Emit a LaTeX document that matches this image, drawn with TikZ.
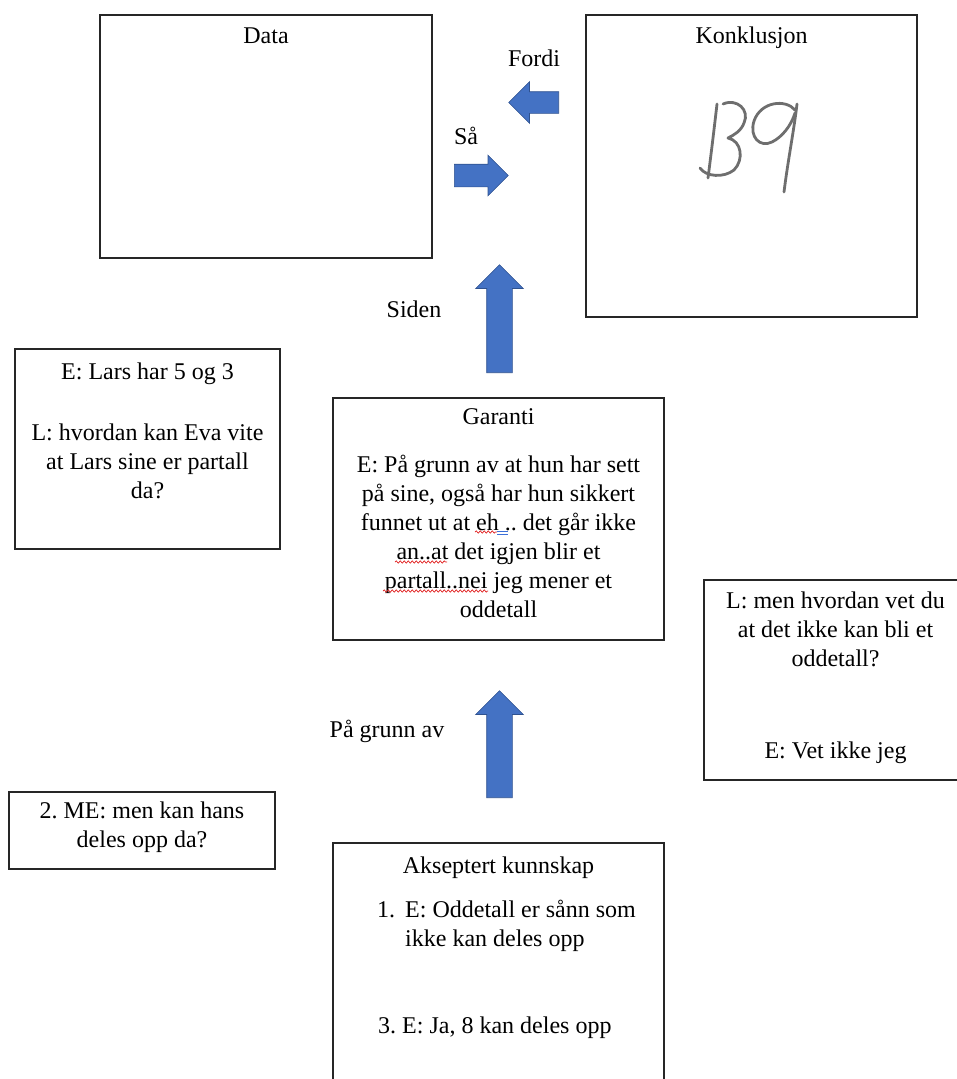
\documentclass[tikz,border=0pt]{standalone}
\usepackage{fontspec}
\setmainfont{Liberation Serif}
\frenchspacing
\usetikzlibrary{shapes.arrows,decorations.pathmorphing}
\definecolor{arrowblue}{HTML}{4472C4}
\definecolor{arrowedge}{HTML}{2F528F}
\definecolor{pencil}{HTML}{6E6E6E}
\definecolor{spellred}{HTML}{E02020}
\definecolor{grammarblue}{HTML}{3C6FD8}
\begin{document}
\begin{tikzpicture}[x=1pt,y=-1pt,
  frame/.style={draw=black!85,line width=1.1pt,inner sep=0pt},
  txt/.style={font=\fontsize{24}{29}\selectfont,inner sep=0pt,align=center,anchor=base},
  para/.style={txt,text width=#1,align=flush center},
  blockarrow/.style={single arrow,fill=arrowblue,draw=arrowedge,line width=0.6pt,
    inner xsep=0pt,single arrow tip angle=90,single arrow head indent=0pt,anchor=tail},
  hand/.style={draw=pencil,line width=2.8pt,line cap=round,line join=round},
  spell/.style={draw=spellred,line width=0.7pt,decorate,
    decoration={snake,amplitude=1.1pt,segment length=4pt}}]
\useasboundingbox (0,0) rectangle (957,1079);
\clip (0,0) rectangle (957,1079);

% ---- boxes ----
\node[frame,minimum width=332pt,minimum height=243pt] (data) at (266,136.5) {};
\node[frame,minimum width=331pt,minimum height=302pt] (konk) at (751.5,166) {};
\node[frame,minimum width=265pt,minimum height=200pt] (lars) at (147.5,449) {};
\node[frame,minimum width=331pt,minimum height=242pt] (garanti) at (498.5,519) {};
\node[frame,minimum width=263pt,minimum height=200pt] (vet) at (835.5,680) {};
\node[frame,minimum width=266pt,minimum height=77pt] (me) at (142,830.5) {};
\node[frame,minimum width=331pt,minimum height=257pt] (aks) at (498.5,971.5) {};

% ---- block arrows (placed by their tails) ----
\node[blockarrow,inner ysep=10.5pt,single arrow head extend=10pt,
  minimum height=50pt,rotate=180] (fordiarrow) at (559,102.5) {};
\node[blockarrow,inner ysep=11pt,single arrow head extend=9pt,
  minimum height=54pt] (saaarrow) at (454,175.5) {};
\node[blockarrow,inner ysep=12.5pt,single arrow head extend=11pt,
  minimum height=108pt,rotate=90] (sidenarrow) at (499.5,373) {};
\node[blockarrow,inner ysep=12.5pt,single arrow head extend=11pt,
  minimum height=107pt,rotate=90] (pgaarrow) at (499.5,798) {};

% ---- labels ----
\node[txt] (tdata) at (266,43) {Data};
\node[txt] (tkonk) at (751.5,43) {Konklusjon};
\node[txt] (tfordi) at (534,66) {Fordi};
\node[txt] (tsaa) at (466,144) {Så};
\node[txt] (tsiden) at (414,317) {Siden};
\node[txt] (tpga) at (387,737) {På grunn av};

\node[para=250pt] (tlars1) at (147.5,379) {E: Lars har 5 og 3};
\node[para=250pt] (tlars2) at (147.5,440)
  {L: hvordan kan Eva vite\\at Lars sine er partall\\da?};

\node[txt] (tgaranti) at (498.5,424) {Garanti};
\node[para=315pt] (tgarbody) at (498.5,472)
  {E: På grunn av at hun har sett\\på sine, også har hun sikkert\\funnet ut at eh .. det går ikke\\an..at det igjen blir et\\partall..nei jeg mener et\\oddetall};

\node[para=250pt] (tvet1) at (835.5,608)
  {L: men hvordan vet du\\at det ikke kan bli et\\oddetall?};
\node[txt] (tvet2) at (835.5,758) {E: Vet ikke jeg};

\node[para=250pt] (tme) at (142,818) {2. ME: men kan hans\\deles opp da?};

\node[txt] (taks) at (498.5,873) {Akseptert kunnskap};
\node[txt,anchor=base west] (tnum1) at (377,917) {1.};
\node[txt,anchor=base west,text width=250pt,align=flush left] (titem1) at (405,917)
  {E: Oddetall er sånn som\\ikke kan deles opp};
\node[txt,anchor=base west] (titem3) at (378,1033) {3. E: Ja, 8 kan deles opp};

% ---- proofing marks under the transcript ----
\draw[spell] (475,532) -- (497,532);
\draw[grammarblue,line width=0.7pt] (497,531) -- (508,531) (497,534.5) -- (508,534.5);
\draw[spell] (395,562) -- (447,562);
\draw[spell] (383,591) -- (488,591);

% ---- handwritten "B9" ----
\draw[hand] (717,104) .. controls (714,130) and (711,155) .. (708,178);
\draw[hand] (723,104) .. controls (737,98) and (750,110) .. (744,123)
  .. controls (741,131) and (734,135) .. (728,138)
  .. controls (742,141) and (744,160) .. (734,170)
  .. controls (724,178) and (706,177) .. (700,168);
\draw[hand] (795,110) .. controls (786,99) and (761,101) .. (754,121)
  .. controls (749,137) and (760,148) .. (772,142)
  .. controls (782,137) and (791,126) .. (795,113);
\draw[hand] (797,104) .. controls (794,130) and (788,160) .. (784,192);
\end{tikzpicture}
\end{document}
